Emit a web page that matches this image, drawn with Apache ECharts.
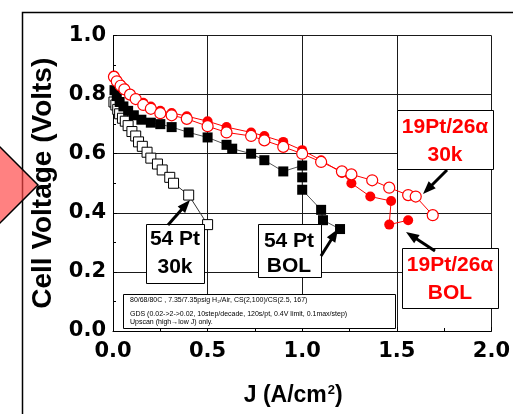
<!DOCTYPE html>
<html><head><meta charset="utf-8">
<script src="https://cdn.jsdelivr.net/npm/echarts@6/dist/echarts.min.js"></script>
<style>html,body{margin:0;padding:0;background:#fff}#c{width:513px;height:414px}</style>
</head><body><div id="c"></div>
<script>
// ---- data (J in A/cm2, cell voltage in V) ----
const xTickValues = [0, 0.5, 1.0, 1.5, 2.0];
const yTickValues = [0, 0.2, 0.4, 0.6, 0.8, 1.0];

const pt54_30k = [[0.005,0.775],[0.015,0.765],[0.025,0.75],[0.035,0.735],[0.05,0.72],[0.065,0.71],[0.08,0.695],[0.1,0.675],[0.12,0.66],[0.135,0.64],[0.155,0.625],[0.18,0.605],[0.2,0.585],[0.235,0.565],[0.26,0.545],[0.3,0.52],[0.32,0.5],[0.4,0.46],[0.5,0.36]];

const pt54_BOL = [[0.008,0.815],[0.02,0.795],[0.035,0.775],[0.055,0.76],[0.08,0.745],[0.11,0.73],[0.15,0.715],[0.2,0.705],[0.25,0.7],[0.31,0.69],[0.4,0.672],[0.5,0.655],[0.6,0.63],[0.63,0.617],[0.73,0.6],[0.8,0.578],[0.9,0.54],[1.0,0.56],[1.0,0.52],[1.0,0.478],[1.1,0.41],[1.11,0.375],[1.2,0.345]];

const pt19_BOL = [[0.005,0.865],[0.02,0.85],[0.04,0.835],[0.06,0.822],[0.09,0.803],[0.12,0.787],[0.16,0.772],[0.2,0.76],[0.25,0.745],[0.31,0.738],[0.39,0.727],[0.5,0.71],[0.6,0.69],[0.73,0.672],[0.8,0.66],[0.9,0.64],[1.0,0.612],[1.1,0.578],[1.21,0.535],[1.26,0.5],[1.36,0.455],[1.47,0.44],[1.46,0.36],[1.56,0.375]];

const pt19_30k = [[0.005,0.86],[0.02,0.845],[0.04,0.83],[0.06,0.818],[0.09,0.8],[0.12,0.785],[0.16,0.765],[0.2,0.752],[0.25,0.737],[0.31,0.73],[0.39,0.718],[0.5,0.693],[0.6,0.672],[0.73,0.66],[0.8,0.645],[0.9,0.623],[1.0,0.6],[1.1,0.572],[1.21,0.54],[1.26,0.53],[1.37,0.51],[1.46,0.485],[1.56,0.46],[1.6,0.455],[1.69,0.392]];

const noteLines = [
  '80/68/80C , 7.35/7.35psig H\u2082/Air, CS(2,100)/CS(2.5, 167)',
  'GDS (0.02->2->0.02, 10step/decade, 120s/pt, 0.4V limit, 0.1max/step)',
  'Upscan (high\u2192low J) only.'
];

const chart = echarts.init(document.getElementById('c'), null, {renderer:'canvas'});
const F = '"Liberation Sans", Arial, sans-serif';
const FT = '"DejaVu Sans", sans-serif';

function arrow(x1,y1,x2,y2){
  const dx=x2-x1, dy=y2-y1, L=Math.hypot(dx,dy), ux=dx/L, uy=dy/L;
  const hl=13, hw=5;
  const bx=x2-ux*hl, by=y2-uy*hl, nx=-uy, ny=ux;
  return [
    {type:'line', z:110, shape:{x1:x1,y1:y1,x2:bx+ux*2,y2:by+uy*2}, style:{stroke:'#000', lineWidth:3}},
    {type:'polygon', z:110, shape:{points:[[x2,y2],[bx+nx*hw,by+ny*hw],[bx-nx*hw,by-ny*hw]]}, style:{fill:'#000'}}
  ];
}
function box(x,y,w,h){
  return {type:'rect', z:100, shape:{x:x+0.5,y:y+0.5,width:w,height:h}, style:{fill:'#fff', stroke:'#000', lineWidth:1}};
}
function label(text,x,y,color){
  return {type:'text', z:105, style:{text:text, x:x, y:y, fill:color, font:'bold 21px '+F, align:'center', verticalAlign:'middle', textAlign:'center', textVerticalAlign:'middle'}};
}

const graphics = [
  {type:'polygon', z:90, shape:{points:[[-5,142],[38,185],[-5,228]]}, style:{fill:'rgba(255,70,70,0.68)', stroke:'#000', lineWidth:1.5}},
  {type:'polyline', z:89, shape:{points:[[22.5,420],[22.5,12.5],[520,12.5]]}, style:{stroke:'#000', lineWidth:1.5, fill:null}},
  box(146,224,58,59), label('54 Pt',175,239,'#000'), label('30k',175,267,'#000'),
  box(258,224,63,53), label('54 Pt',289,241,'#000'), label('BOL',289,266,'#000'),
  box(397,110,96,59), label('19Pt/26\u03b1',445,127,'#ff0000'), label('30k',445,155,'#ff0000'),
  box(402,248,96,60), label('19Pt/26\u03b1',450,265,'#ff0000'), label('BOL',450,293,'#ff0000'),
  box(123,294,272,34)
];
noteLines.forEach((t,i)=>{
  graphics.push({type:'text', z:105, style:{text:t, x:130, y:[300,314,322.5][i], fill:'#000', font:'7px '+F, align:'left', verticalAlign:'middle', textAlign:'left', textVerticalAlign:'middle'}});
});
graphics.push(...arrow(168,225,190,200));
graphics.push(...arrow(321,256,338,229));
graphics.push(...arrow(447,170,423,194));
graphics.push(...arrow(435,251,406,232));

const option = {
  animation:false,
  backgroundColor:'#fff',
  grid:{left:113, right:15, top:35.5, bottom:83, containLabel:false},
  xAxis:{
    type:'value', min:0, max:2, interval:0.5,
    axisLine:{show:true, onZero:false, lineStyle:{color:'#000', width:1}},
    axisTick:{show:true, inside:true, length:4, lineStyle:{color:'#000'}},
    minorTick:{show:true, splitNumber:2, length:3, lineStyle:{color:'#000'}},
    splitLine:{show:true, lineStyle:{color:'#1a1a1a', width:1}},
    axisLabel:{margin:10, color:'#000', fontSize:21, fontWeight:'bold', fontFamily:FT,
      formatter:v=>{const m=xTickValues.find(t=>Math.abs(t-v)<1e-9); return m===undefined?'':m.toFixed(1);}},
    name:'J (A/cm{s|2})', nameLocation:'middle', nameGap:53,
    nameTextStyle:{color:'#000', fontSize:23, fontWeight:'bold', fontFamily:F, padding:[0,18,0,0],
      rich:{s:{fontSize:13, fontWeight:'bold', fontFamily:F, color:'#000', verticalAlign:'top', padding:[0,0,8,1]}}}
  },
  yAxis:{
    type:'value', min:0, max:1, interval:0.2,
    axisLine:{show:true, onZero:false, lineStyle:{color:'#000', width:1}},
    axisTick:{show:true, inside:true, length:4, lineStyle:{color:'#000'}},
    minorTick:{show:true, splitNumber:2, length:3, lineStyle:{color:'#000'}},
    splitLine:{show:true, lineStyle:{color:'#1a1a1a', width:1}},
    axisLabel:{margin:7, color:'#000', fontSize:21, fontWeight:'bold', fontFamily:FT,
      formatter:v=>{const m=yTickValues.find(t=>Math.abs(t-v)<1e-9); return m===undefined?'':m.toFixed(1);}},
    name:'Cell Voltage (Volts)', nameLocation:'middle', nameGap:56, nameRotate:90,
    nameTextStyle:{color:'#000', fontSize:28, fontWeight:'bold', fontFamily:F}
  },
  series:[
    {name:'54 Pt 30k', type:'line', data:pt54_30k, symbol:'rect', symbolSize:10, showAllSymbol:true,
      lineStyle:{color:'#333', width:1}, itemStyle:{color:'#fff', borderColor:'#000', borderWidth:1}, z:2},
    {name:'54 Pt BOL', type:'line', data:pt54_BOL, symbol:'rect', symbolSize:10, showAllSymbol:true,
      lineStyle:{color:'#555', width:1}, itemStyle:{color:'#000', borderColor:'#000', borderWidth:0}, z:3},
    {name:'19Pt/26a BOL', type:'line', data:pt19_BOL, symbol:'circle', symbolSize:10, showAllSymbol:true,
      lineStyle:{color:'#ff0000', width:1}, itemStyle:{color:'#ff0000', borderColor:'#ff0000', borderWidth:0}, z:4},
    {name:'19Pt/26a 30k', type:'line', data:pt19_30k, symbol:'circle', symbolSize:11, showAllSymbol:true,
      lineStyle:{color:'#ff0000', width:1}, itemStyle:{color:'#fff', borderColor:'#ff0000', borderWidth:1.2}, z:5}
  ],
  graphic:graphics
};
chart.setOption(option);
</script></body></html>
